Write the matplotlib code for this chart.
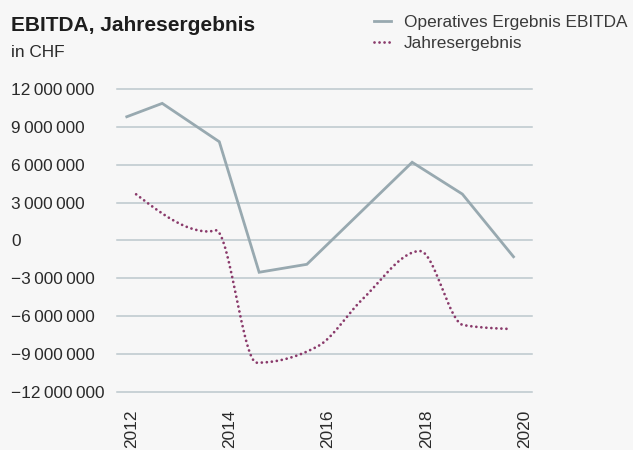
import numpy as np
import matplotlib
matplotlib.use("Agg")
import matplotlib.pyplot as plt
from matplotlib.lines import Line2D

# ---------------- data ----------------
ebitda_x = [2011.91, 2012.63, 2013.79, 2014.60, 2015.57, 2017.71, 2018.73, 2019.77]
ebitda_y = [9.80e6, 10.86e6, 7.82e6, -2.53e6, -1.90e6, 6.19e6, 3.67e6, -1.30e6]

jahres_x = [2012.10, 2013.58, 2013.72, 2014.55, 2015.80, 2016.70, 2017.87, 2018.75, 2019.72]
jahres_y = [3.65e6, 0.70e6, 0.80e6, -9.70e6, -8.38e6, -4.67e6, -0.85e6, -6.72e6, -7.03e6]

y_ticks = [12e6, 9e6, 6e6, 3e6, 0, -3e6, -6e6, -9e6, -12e6]
x_ticks = [2012, 2014, 2016, 2018, 2020]

title = "EBITDA, Jahresergebnis"
subtitle = "in CHF"
label_ebitda = "Operatives Ergebnis EBITDA"
label_jahres = "Jahresergebnis"

# ---------------- style ----------------
BG = "#f7f7f7"
C_EBITDA = "#98a9b0"
C_JAHRES = "#8a3a6b"
C_GRID = "#bcc7cc"
C_TEXT = "#2a2a2a"
FONT = ["Liberation Sans", "DejaVu Sans"]
plt.rcParams["font.family"] = FONT
FS = 12.4
DOTS = (0, (0.01, 1.8))


def monotone_x(x, y, n=40):
    """d3 curveMonotoneX equivalent, for smooth drawing between the data points."""
    x = np.asarray(x, float)
    y = np.asarray(y, float)
    h = np.diff(x)
    s = np.diff(y) / h
    m = np.zeros_like(y)
    for i in range(1, len(y) - 1):
        h0, h1, s0, s1 = h[i - 1], h[i], s[i - 1], s[i]
        p = (s0 * h1 + s1 * h0) / (h0 + h1)
        m[i] = (np.sign(s0) + np.sign(s1)) * min(abs(s0), abs(s1), 0.5 * abs(p))
    m[0] = (3 * s[0] - m[1]) / 2
    m[-1] = (3 * s[-1] - m[-2]) / 2
    xs, ys = [], []
    for i in range(len(h)):
        t = np.linspace(0, 1, n, endpoint=(i == len(h) - 1))
        h00 = 2 * t**3 - 3 * t**2 + 1
        h10 = t**3 - 2 * t**2 + t
        h01 = -2 * t**3 + 3 * t**2
        h11 = t**3 - t**2
        xs.append(x[i] + t * h[i])
        ys.append(h00 * y[i] + h10 * h[i] * m[i] + h01 * y[i + 1] + h11 * h[i] * m[i + 1])
    return np.concatenate(xs), np.concatenate(ys)


def fmt(v):
    s = f"{abs(int(v)):,}".replace(",", "\u2009")
    return ("\u2212" + s) if v < 0 else s


W, H = 633, 450
fig = plt.figure(figsize=(W / 100, H / 100), dpi=100, facecolor=BG)
L, R, T, B = 117, 532, 89, 391.7
ax = fig.add_axes([L / W, 1 - B / H, (R - L) / W, (B - T) / H], facecolor=BG)

ax.set_xlim(2011.711, 2020.146)
ax.set_ylim(-12e6, 12e6)

for v in y_ticks:
    ax.axhline(v, color=C_GRID, lw=1.1, zorder=1, clip_on=False)

ax.plot(ebitda_x, ebitda_y, color=C_EBITDA, lw=2.0, zorder=3, solid_joinstyle="miter")
jx, jy = monotone_x(jahres_x, jahres_y)
ax.plot(jx, jy, color=C_JAHRES, lw=2.0, linestyle=DOTS,
        dash_capstyle="round", zorder=4)

for sp in ax.spines.values():
    sp.set_visible(False)

ax.set_yticks(y_ticks)
ax.set_yticklabels([fmt(v) for v in y_ticks])
ax.tick_params(axis="y", length=0, pad=(L - 11) * 0.72, labelsize=FS, labelcolor=C_TEXT)
for lbl in ax.get_yticklabels():
    lbl.set_horizontalalignment("left")

ax.set_xticks(x_ticks)
ax.set_xticklabels([str(t) for t in x_ticks], rotation=90, va="top", ha="center")
ax.tick_params(axis="x", length=0, pad=13.0, labelsize=FS, labelcolor=C_TEXT)

fig.text(11 / W, 1 - 31 / H, title, fontsize=15, fontweight="bold", color="#1e1e1e",
         va="baseline", ha="left")
fig.text(11 / W, 1 - 56.7 / H, subtitle, fontsize=FS, color=C_TEXT,
         va="baseline", ha="left")

# legend
ly1, ly2 = 20.7, 42.0
fig.add_artist(Line2D([374 / W, 391 / W], [1 - ly1 / H, 1 - ly1 / H],
                      transform=fig.transFigure, color=C_EBITDA, lw=2.0))
fig.add_artist(Line2D([374 / W, 391 / W], [1 - ly2 / H, 1 - ly2 / H],
                      transform=fig.transFigure, color=C_JAHRES, lw=2.0,
                      linestyle=DOTS, dash_capstyle="round"))
fig.text(404 / W, 1 - ly1 / H, label_ebitda, fontsize=FS, color="#3a3a3a",
         va="center_baseline", ha="left")
fig.text(404 / W, 1 - ly2 / H, label_jahres, fontsize=FS, color="#3a3a3a",
         va="center_baseline", ha="left")

fig.savefig("out.png", dpi=100, facecolor=BG)
